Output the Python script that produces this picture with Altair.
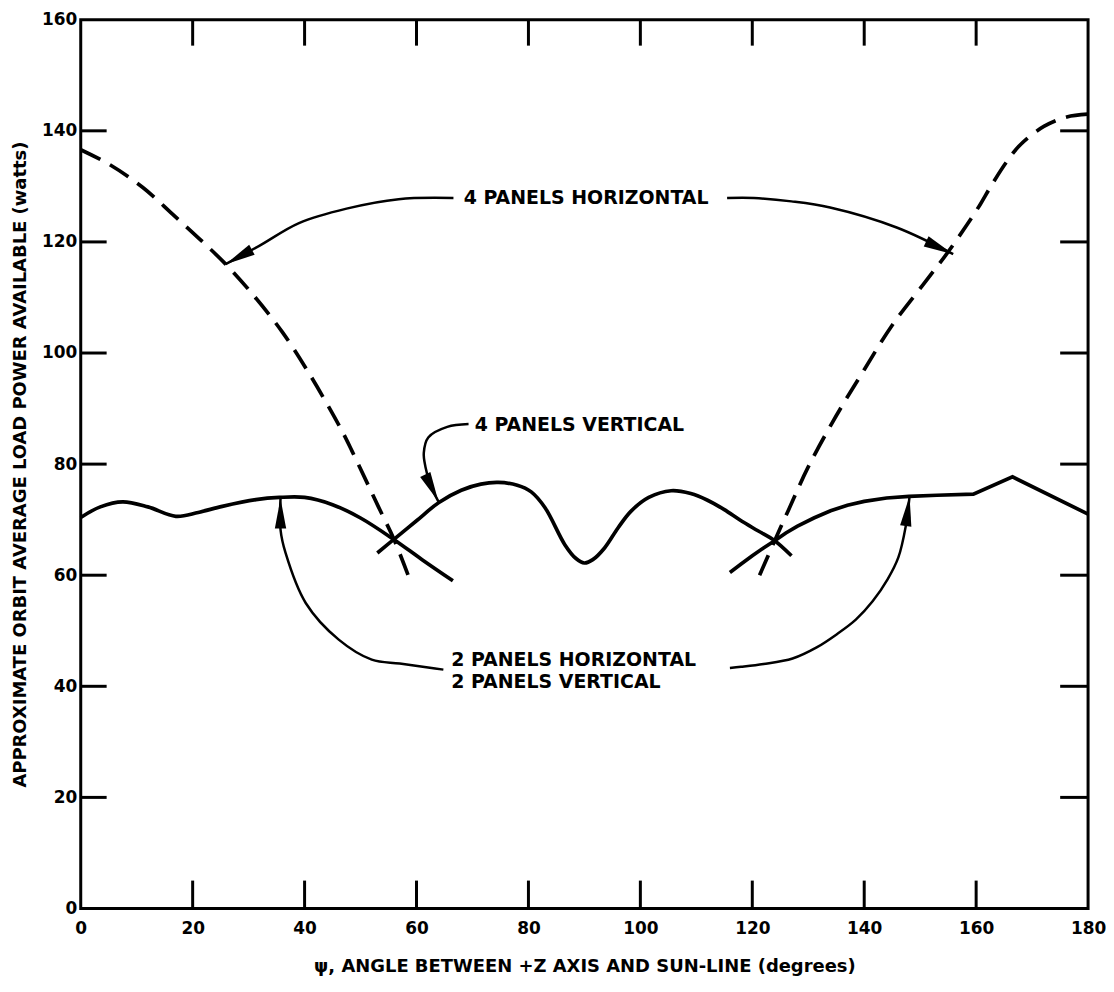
import math
import altair as alt
import pandas as pd

W, H = 1011, 892
XMAX, YMAX = 180, 160
FONT = "DejaVu Sans"

# axis ticks / labels
x_tick_values = [0, 20, 40, 60, 80, 100, 120, 140, 160, 180]
y_tick_values = [0, 20, 40, 60, 80, 100, 120, 140, 160]
inner_x_ticks = [20, 40, 60, 80, 100, 120, 140, 160]
inner_y_ticks = [20, 40, 60, 80, 100, 120, 140]

# ---- curves ----
# 2 panels horizontal / 2 panels vertical (left branch)
two_left_x = [0, 3.5, 7.5, 12, 17, 21, 25.3, 31.3, 35.5, 40, 45, 50, 56, 61, 66.5]
two_left_y = [70.4, 72.3, 73.2, 72.3, 70.6, 71.3, 72.4, 73.6, 74.0, 74.0, 72.7, 70.3, 66.4, 62.8, 59.0]

# 4 panels vertical (middle)
four_v_x = [53, 55.9, 60, 64, 68, 71.5, 74.6, 78, 80.5, 83, 86.5, 88.5, 90, 91.5, 93.6,
            96, 98.3, 101.5, 105.5, 109, 112, 115, 118, 121, 124, 127]
four_v_y = [64.0, 66.4, 69.8, 73.1, 75.3, 76.4, 76.7, 76.2, 75.0, 72.1, 65.5, 63.0, 62.2, 62.8, 64.9,
            68.5, 71.5, 74.0, 75.2, 74.7, 73.5, 71.8, 69.8, 68.0, 66.2, 63.5]

# 2 panels horizontal / 2 panels vertical (right branch)
two_right_x = [116, 118, 120, 122, 124, 126, 128, 131, 134, 137, 140, 144, 148, 153, 159.5, 166.5, 180]
two_right_y = [60.5, 62.0, 63.5, 64.9, 66.2, 67.6, 68.8, 70.3, 71.6, 72.6, 73.3, 73.9, 74.2, 74.4, 74.6, 77.7, 71.0]

# 4 panels horizontal (dashed, left branch)
four_h_left_x = [0, 5.2, 11.1, 16.4, 21.8, 25.9, 30.7, 36, 41, 46.4, 48.5, 53.2, 56, 58.5]
four_h_left_y = [136.6, 133.9, 129.8, 125.0, 120.0, 116.0, 110.6, 103.8, 96.0, 86.5, 82.3, 72.3, 66.4, 60.0]

# 4 panels horizontal (dashed, right branch)
four_h_right_x = [121.3, 124, 126.5, 130, 135, 140, 145, 150.6, 154.7, 158.3, 160.7, 162.5, 165.5, 167.9, 172.1, 176.2, 180]
four_h_right_y = [60.0, 66.2, 71.8, 79.5, 88.7, 97.0, 105.0, 112.4, 117.8, 123.0, 126.7, 129.8, 134.5, 137.5, 140.8, 142.5, 143.0]

# ---- annotations ----
label_text = ["4 PANELS HORIZONTAL", "4 PANELS VERTICAL", "2 PANELS HORIZONTAL", "2 PANELS VERTICAL"]
label_x = [90.3, 70.4, 66.2, 66.2]
label_y = [127.9, 87.0, 44.8, 40.7]
label_align = ["center", "left", "left", "left"]

arrow_h_left_x = [66.6, 56.8, 47.5, 39.0, 31.9, 25.9]
arrow_h_left_y = [127.9, 127.7, 126.0, 123.4, 119.3, 116.0]
arrow_h_right_x = [115.5, 120.3, 127.0, 133.9, 145.8, 155.9]
arrow_h_right_y = [127.9, 127.9, 127.3, 126.2, 122.6, 117.8]
arrow_v_x = [69.3, 65.5, 62.1, 61.3, 61.6, 62.5, 63.9]
arrow_v_y = [87.2, 86.7, 84.8, 82.0, 79.5, 76.2, 73.3]
arrow_2l_x = [64.8, 62.7, 57.0, 52.0, 46.1, 40.2, 36.6, 35.7, 35.7]
arrow_2l_y = [43.0, 43.3, 44.1, 44.8, 48.4, 55.0, 64.0, 68.2, 73.8]
arrow_2r_x = [116, 118, 122, 127.2, 131.5, 135, 138.5, 141.5, 144.2, 146.1, 147.4, 148.1]
arrow_2r_y = [43.3, 43.5, 44.0, 45.0, 47.0, 49.3, 52.0, 55.3, 59.3, 63.2, 68.7, 74.2]

x_scale = alt.Scale(domain=[0, XMAX], nice=False, zero=False)
y_scale = alt.Scale(domain=[0, YMAX], nice=False, zero=False)

x_axis = alt.Axis(values=x_tick_values, title="ψ, ANGLE BETWEEN +Z AXIS AND SUN-LINE (degrees)",
                  ticks=False, tickSize=0, domain=False, grid=False, labelFlush=False,
                  labelOverlap=False, labelPadding=12, titlePadding=21)
y_axis = alt.Axis(values=y_tick_values, title="APPROXIMATE ORBIT AVERAGE LOAD POWER AVAILABLE (watts)",
                  ticks=False, tickSize=0, domain=False, grid=False, labelFlush=False,
                  labelOverlap=False, labelPadding=4, titlePadding=12)


def X(field="x"):
    return alt.X(f"{field}:Q", scale=x_scale, axis=x_axis)


def Y(field="y"):
    return alt.Y(f"{field}:Q", scale=y_scale, axis=y_axis)


def frame(xs, ys):
    return pd.DataFrame({"x": xs, "y": ys, "i": list(range(len(xs)))})


def curve(xs, ys, width=3.7, dash=None, interp="catmull-rom"):
    kw = dict(color="black", strokeWidth=width, interpolate=interp, strokeCap="butt")
    if dash:
        kw["strokeDash"] = dash
    return alt.Chart(frame(xs, ys)).mark_line(**kw).encode(x=X(), y=Y(), order="i:Q")


layers = []

# inner tick marks (all four sides)
tx = pd.DataFrame({"v": inner_x_ticks})
ty = pd.DataFrame({"v": inner_y_ticks})
layers.append(alt.Chart(tx).mark_rule(color="black", strokeWidth=3).encode(
    x=X("v"), y=alt.value(H), y2=alt.value(H - 28)))
layers.append(alt.Chart(tx).mark_rule(color="black", strokeWidth=3).encode(
    x=X("v"), y=alt.value(0), y2=alt.value(26)))
layers.append(alt.Chart(ty).mark_rule(color="black", strokeWidth=3).encode(
    y=Y("v"), x=alt.value(0), x2=alt.value(26)))
layers.append(alt.Chart(ty).mark_rule(color="black", strokeWidth=3).encode(
    y=Y("v"), x=alt.value(W - 28), x2=alt.value(W)))

# data curves
layers.append(curve(two_left_x, two_left_y))
layers.append(curve(four_v_x, four_v_y))
layers.append(curve(two_right_x, two_right_y, interp="linear"))
layers.append(curve(four_h_left_x, four_h_left_y, dash=[22, 11]))
layers.append(curve(four_h_right_x, four_h_right_y, dash=[22, 11]))

# annotation arrows
arrows = [
    (arrow_h_left_x, arrow_h_left_y),
    (arrow_h_right_x, arrow_h_right_y),
    (arrow_v_x, arrow_v_y),
    (arrow_2l_x, arrow_2l_y),
    (arrow_2r_x, arrow_2r_y),
]
heads = {"x": [], "y": [], "a": []}
for xs, ys in arrows:
    layers.append(curve(xs, ys, width=2.5))
    dxp = (xs[-1] - xs[-2]) * W / XMAX
    dyp = -(ys[-1] - ys[-2]) * H / YMAX
    heads["x"].append(xs[-1])
    heads["y"].append(ys[-1])
    heads["a"].append(math.degrees(math.atan2(dxp, -dyp)) % 360)

layers.append(alt.Chart(pd.DataFrame(heads)).mark_point(
    shape="M0,0L0.38,2L-0.38,2Z", size=900, filled=True, fill="black",
    strokeWidth=0, opacity=1).encode(x=X(), y=Y(), angle=alt.Angle("a:Q", scale=None)))

# annotation text
lab = pd.DataFrame({"t": label_text, "x": label_x, "y": label_y, "al": label_align})
for al in ["center", "left"]:
    layers.append(alt.Chart(lab[lab["al"] == al]).mark_text(
        font=FONT, fontSize=19, fontWeight="bold", color="black", align=al, baseline="middle"
    ).encode(x=X(), y=Y(), text="t:N"))

chart = alt.layer(*layers).properties(
    width=W, height=H,
    padding={"left": 73, "top": 10, "right": 18, "bottom": 72},
    autosize=alt.AutoSizeParams(type="none"),
    background="white",
).configure_view(
    stroke="black", strokeWidth=3
).configure_axis(
    labelFont=FONT, labelFontSize=17, labelFontWeight="bold", labelColor="black",
    titleFont=FONT, titleFontSize=18, titleFontWeight="bold", titleColor="black",
)

chart.save("out.html", embed_options={"renderer": "svg", "actions": False})
